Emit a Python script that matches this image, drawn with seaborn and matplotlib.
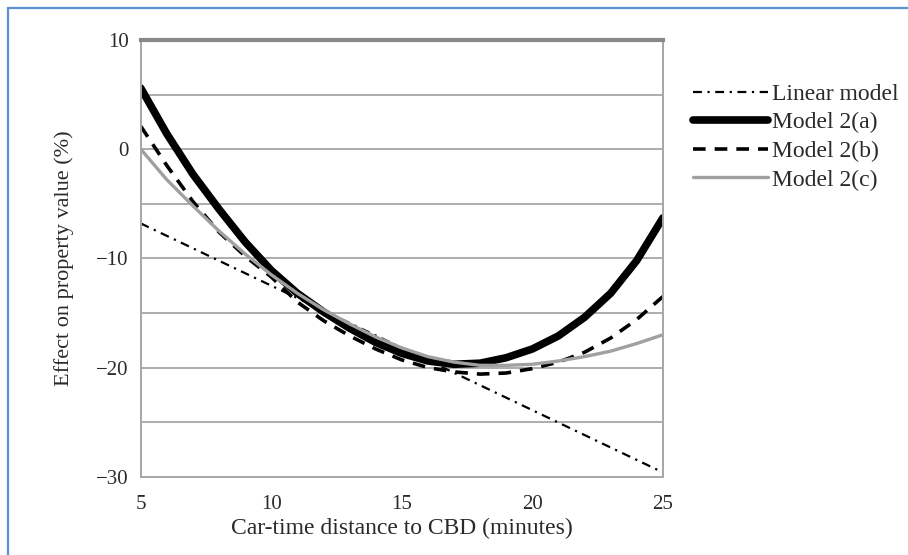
import matplotlib
matplotlib.use("Agg")
import matplotlib.pyplot as plt
import numpy as np
import pandas as pd
import seaborn as sns
from matplotlib.patches import Rectangle

# Values
minutes = [5, 6, 7, 8, 9, 10, 11, 12, 13, 14, 15, 16, 17, 18, 19, 20, 21, 22, 23, 24, 25]
model_2a = [5.6, 1.4, -2.3, -5.5, -8.5, -11.1, -13.2, -14.9, -16.4, -17.7, -18.7, -19.4, -19.7,
            -19.6, -19.1, -18.3, -17.1, -15.4, -13.2, -10.2, -6.3]
model_2b = [2.1, -1.5, -4.8, -7.6, -9.8, -11.7, -14.0, -15.7, -17.1, -18.3, -19.3, -20.0, -20.4,
            -20.6, -20.5, -20.1, -19.5, -18.6, -17.3, -15.6, -13.5]
model_2c = [0.0, -2.8, -5.2, -7.5, -9.6, -11.5, -13.2, -14.7, -16.0, -17.2, -18.2, -19.0, -19.5,
            -19.8, -19.8, -19.7, -19.4, -19.0, -18.5, -17.8, -17.0]
linear_x = [5, 25]
linear_y = [-6.8, -29.6]

df = pd.DataFrame({"x": minutes, "2a": model_2a, "2b": model_2b, "2c": model_2c})
df_lin = pd.DataFrame({"x": linear_x, "y": linear_y})

sns.set_style("white")
plt.rcParams["font.family"] = ["Liberation Serif", "DejaVu Serif"]

fig = plt.figure(figsize=(9.08, 5.55), dpi=100)
ax = fig.add_axes([0.155, 0.141, 0.575, 0.787])

grid_col = "#a6a6a6"
txt_col = "#2a2a2a"
for yv in range(-25, 10, 5):
    ax.axhline(yv, color=grid_col, lw=1.3, zorder=0)

sns.lineplot(data=df_lin, x="x", y="y", ax=ax, color="black", lw=1.6,
             linestyle=(0, (4, 2.5, 1, 2.5)), label="Linear model")
sns.lineplot(data=df, x="x", y="2a", ax=ax, color="black", lw=5.5,
             label="Model 2(a)")
sns.lineplot(data=df, x="x", y="2b", ax=ax, color="black", lw=2.6,
             linestyle=(0, (3.5, 2.5)), label="Model 2(b)")
sns.lineplot(data=df, x="x", y="2c", ax=ax, color="#a0a0a0", lw=2.4,
             label="Model 2(c)")

ax.set_xlim(5, 25)
ax.set_ylim(-30, 10)
ax.set_xticks([5, 10, 15, 20, 25])
ax.set_yticks([-30, -20, -10, 0, 10])
ax.set_yticklabels(["\u221230", "\u221220", "\u221210", "0", "10"])
ax.set_yticks(range(-25, 10, 10), minor=True)
ax.tick_params(axis="both", which="both", direction="out", colors="#888888",
               labelcolor=txt_col, labelsize=15, length=5, width=1.2)
ax.tick_params(axis="x", pad=8)
ax.set_xlabel("Car-time distance to CBD (minutes)", fontsize=17, color=txt_col, labelpad=3)
ax.set_ylabel("Effect on property value (%)", fontsize=16, color=txt_col, labelpad=16)

for side, sp in ax.spines.items():
    sp.set_color(grid_col)
    sp.set_linewidth(1.4)
ax.spines["top"].set_color("#888888")
ax.spines["top"].set_linewidth(3)

leg = ax.legend(loc="upper left", bbox_to_anchor=(0.763, 0.85), bbox_transform=fig.transFigure,
                frameon=False, fontsize=17, handlelength=3.2, handletextpad=0.15,
                labelspacing=0.3, borderaxespad=0, borderpad=0)
for t in leg.get_texts():
    t.set_color(txt_col)

fig.patches.append(Rectangle((8 / 908, -0.1), 1.2, 1 - 8 / 555 + 0.1, transform=fig.transFigure,
                             fill=False, edgecolor="#5b8fd0", lw=1.6, zorder=10))

fig.savefig("out.png", dpi=100)
